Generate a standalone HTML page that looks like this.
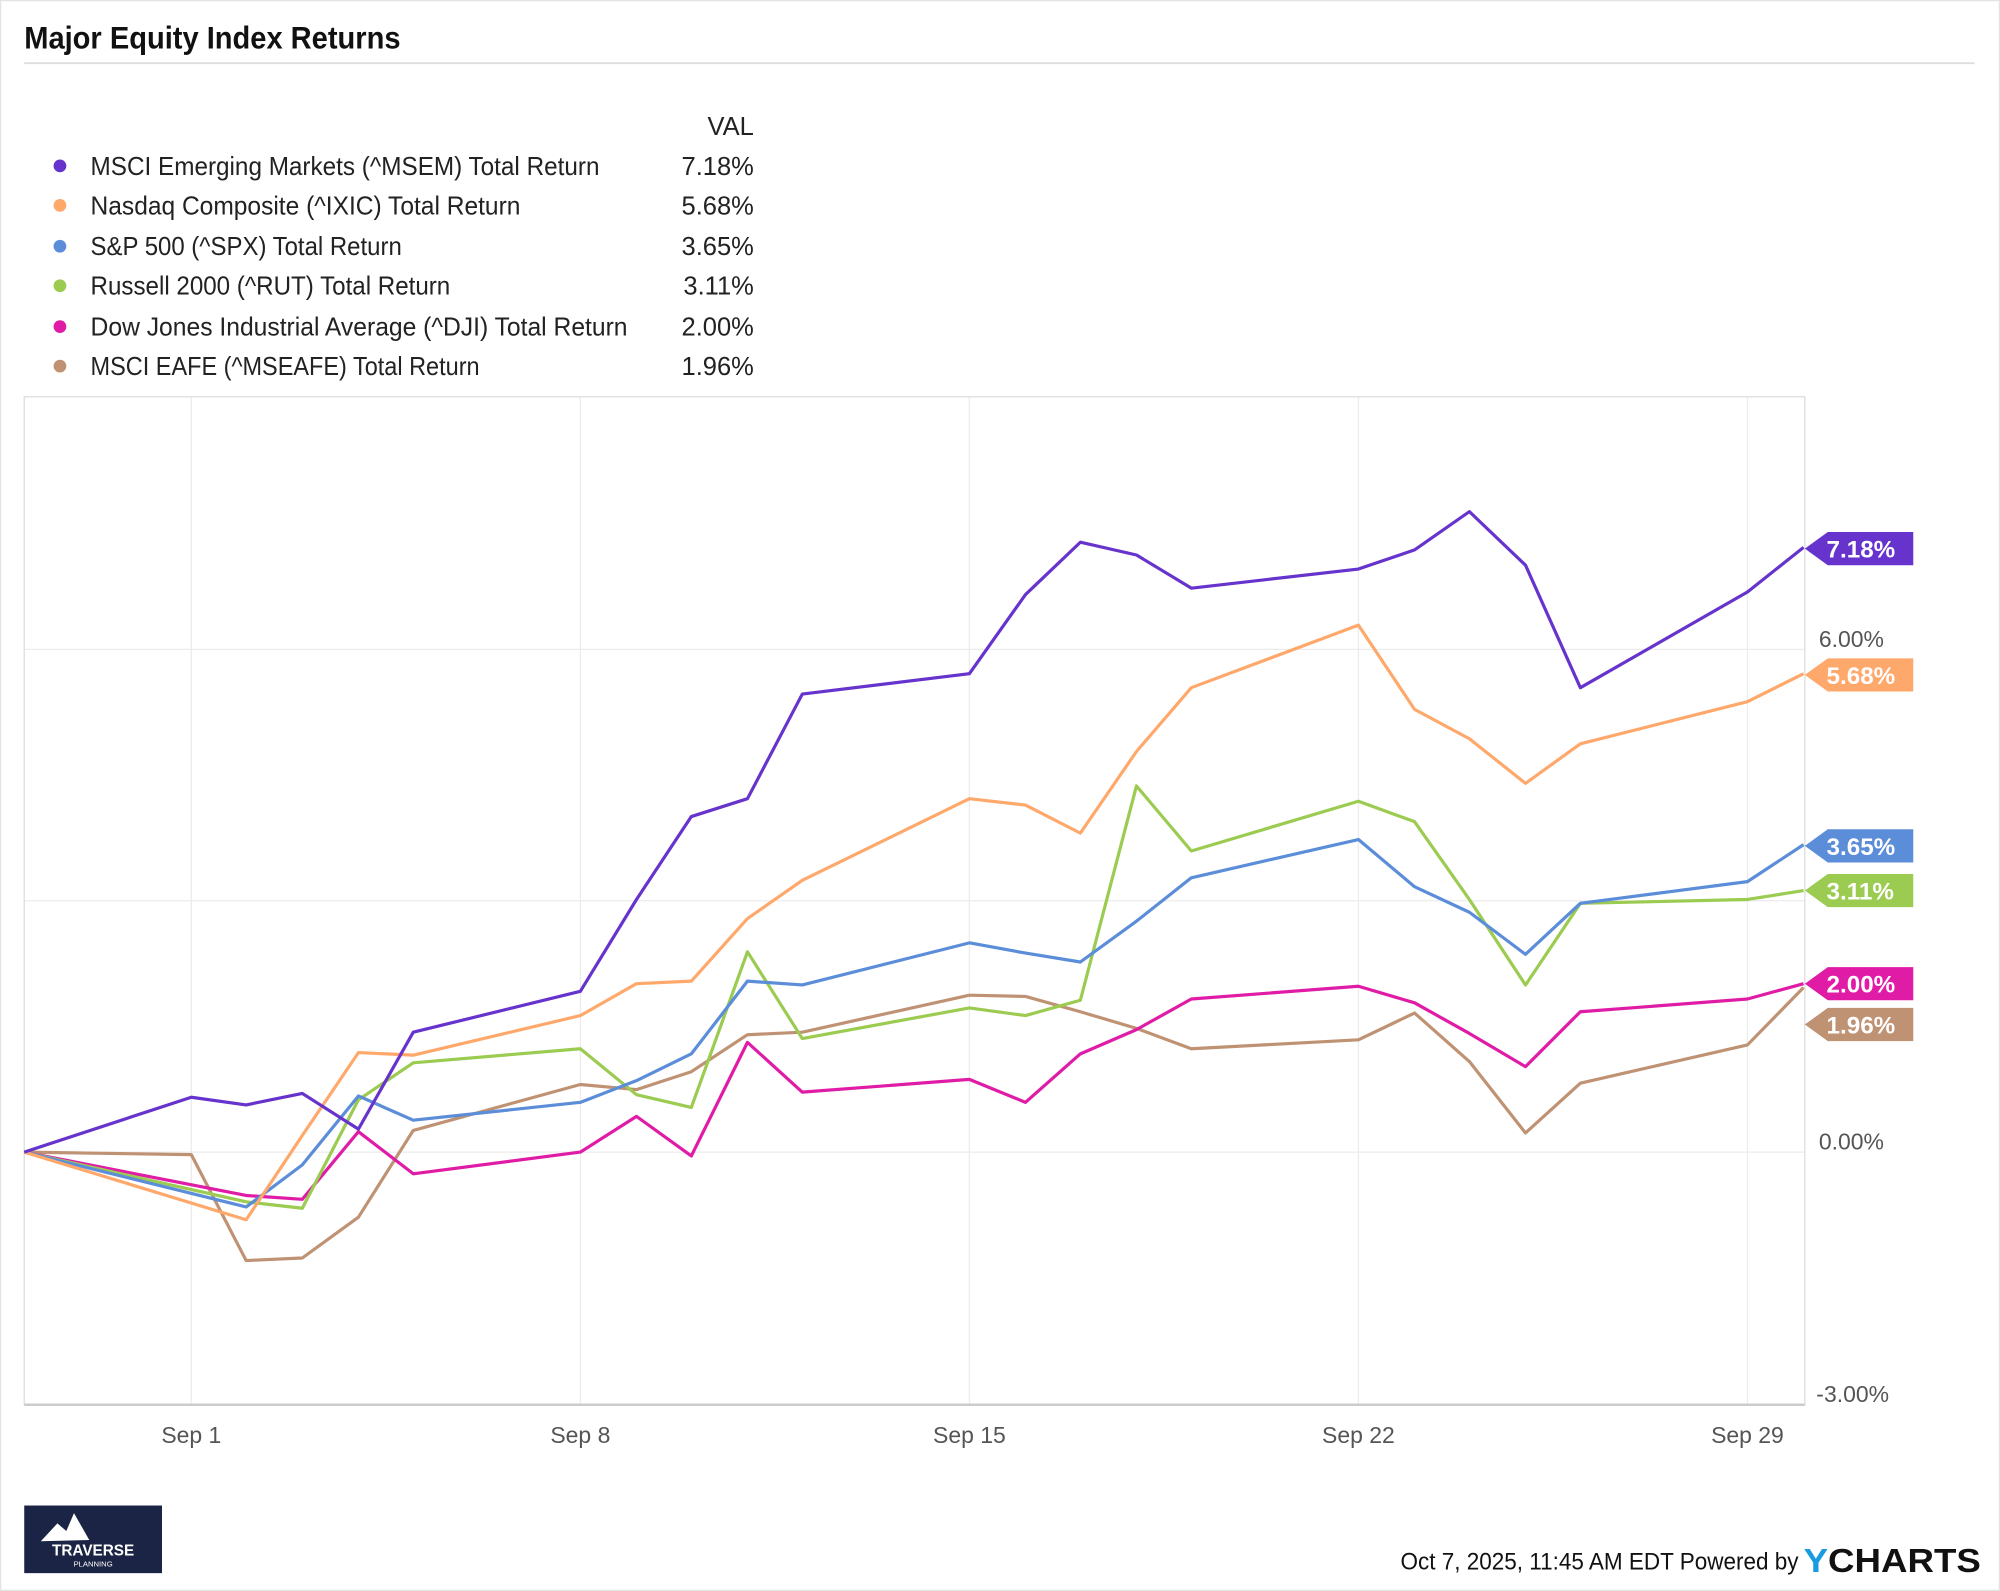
<!DOCTYPE html>
<html><head><meta charset="utf-8"><style>
html,body{margin:0;padding:0;background:#fff}
svg{display:block}
text{font-family:"Liberation Sans Narrow","Liberation Sans",sans-serif}
</style></head><body>
<svg width="2000" height="1591" viewBox="0 0 1568 1247" preserveAspectRatio="none" xmlns="http://www.w3.org/2000/svg">
<rect x="0.5" y="0.5" width="1567" height="1246" fill="#fff" stroke="#e4e4e4"/>
<text x="19" y="38" font-size="25" font-weight="bold" fill="#111" textLength="295" lengthAdjust="spacingAndGlyphs">Major Equity Index Returns</text>
<line x1="19" y1="49.5" x2="1548" y2="49.5" stroke="#ddd" stroke-width="1.5"/>
<g font-size="20" fill="#222">
<text x="591" y="106" text-anchor="end">VAL</text>
<circle cx="47" cy="130" r="5" fill="#6633cc"/><text x="71" y="137" textLength="399" lengthAdjust="spacingAndGlyphs">MSCI Emerging Markets (^MSEM) Total Return</text><text x="591" y="137" text-anchor="end">7.18%</text>
<circle cx="47" cy="161" r="5" fill="#ffa86b"/><text x="71" y="168" textLength="337" lengthAdjust="spacingAndGlyphs">Nasdaq Composite (^IXIC) Total Return</text><text x="591" y="168" text-anchor="end">5.68%</text>
<circle cx="47" cy="193" r="5" fill="#5b8dd9"/><text x="71" y="200" textLength="244" lengthAdjust="spacingAndGlyphs">S&amp;P 500 (^SPX) Total Return</text><text x="591" y="200" text-anchor="end">3.65%</text>
<circle cx="47" cy="224" r="5" fill="#9bcb50"/><text x="71" y="231" textLength="282" lengthAdjust="spacingAndGlyphs">Russell 2000 (^RUT) Total Return</text><text x="591" y="231" text-anchor="end">3.11%</text>
<circle cx="47" cy="256" r="5" fill="#e01ca7"/><text x="71" y="263" textLength="421" lengthAdjust="spacingAndGlyphs">Dow Jones Industrial Average (^DJI) Total Return</text><text x="591" y="263" text-anchor="end">2.00%</text>
<circle cx="47" cy="287" r="5" fill="#c09274"/><text x="71" y="294" textLength="305" lengthAdjust="spacingAndGlyphs">MSCI EAFE (^MSEAFE) Total Return</text><text x="591" y="294" text-anchor="end">1.96%</text>
</g>
<g stroke="#ececec" stroke-width="1">
<line x1="150" y1="311" x2="150" y2="1101"/><line x1="455" y1="311" x2="455" y2="1101"/><line x1="760" y1="311" x2="760" y2="1101"/><line x1="1065" y1="311" x2="1065" y2="1101"/><line x1="1370" y1="311" x2="1370" y2="1101"/>
<line x1="19" y1="509" x2="1415" y2="509"/><line x1="19" y1="706" x2="1415" y2="706"/><line x1="19" y1="903" x2="1415" y2="903"/>
</g>
<rect x="19" y="311" width="1396" height="790" fill="none" stroke="#ddd"/>
<line x1="19" y1="1101" x2="1415" y2="1101" stroke="#ccc" stroke-width="2"/>
<g font-size="18" fill="#555">
<text x="1426" y="507">6.00%</text><text x="1426" y="901">0.00%</text><text x="1424" y="1099">-3.00%</text>
<g text-anchor="middle"><text x="150" y="1131">Sep 1</text><text x="455" y="1131">Sep 8</text><text x="760" y="1131">Sep 15</text><text x="1065" y="1131">Sep 22</text><text x="1370" y="1131">Sep 29</text></g>
</g>
<g fill="none" stroke-width="2.5" stroke-linejoin="round">
<polyline stroke="#c09274" points="19,903 150,905 193,988 237,986 281,954 324,886 455,850 499,854 542,840 586,811 629,809 760,780 804,781 847,793 891,806 934,822 1065,815 1109,794 1152,832 1196,888 1239,849 1370,819 1414,774"/>
<polyline stroke="#e01ca7" points="19,903 193,937 237,940 281,887 324,920 455,903 499,875 542,906 586,817 629,856 760,846 804,864 847,826 891,807 934,783 1065,773 1109,786 1152,810 1196,836 1239,793 1370,783 1414,771"/>
<polyline stroke="#9bcb50" points="19,903 193,942 237,947 281,862 324,833 455,822 499,858 542,868 586,746 629,814 760,790 804,796 847,784 891,616 934,667 1065,628 1109,644 1152,705 1196,772 1239,708 1370,705 1414,698"/>
<polyline stroke="#5b8dd9" points="19,903 193,946 237,913 281,859 324,878 455,864 499,847 542,826 586,769 629,772 760,739 804,747 847,754 891,722 934,688 1065,658 1109,695 1152,715 1196,748 1239,708 1370,691 1414,662"/>
<polyline stroke="#ffa86b" points="19,903 193,956 237,890 281,825 324,827 455,796 499,771 542,769 586,720 629,690 760,626 804,631 847,653 891,589 934,539 1065,490 1109,556 1152,579 1196,614 1239,583 1370,550 1414,528"/>
<polyline stroke="#6633cc" points="19,903 150,860 193,866 237,857 281,885 324,809 455,777 499,705 542,640 586,626 629,544 760,528 804,466 847,425 891,435 934,461 1065,446 1109,431 1152,401 1196,443 1239,539 1370,464 1414,429"/>
</g>
<g font-size="19" font-weight="bold" fill="#fff" font-family="Liberation Sans,sans-serif">
<polygon points="1415,430 1433,417 1500,417 1500,443 1433,443" fill="#6633cc"/><text x="1432" y="437" font-family="Liberation Sans,sans-serif">7.18%</text>
<polygon points="1415,529 1433,516 1500,516 1500,542 1433,542" fill="#ffa86b"/><text x="1432" y="536" font-family="Liberation Sans,sans-serif">5.68%</text>
<polygon points="1415,663 1433,650 1500,650 1500,676 1433,676" fill="#5b8dd9"/><text x="1432" y="670" font-family="Liberation Sans,sans-serif">3.65%</text>
<polygon points="1415,698 1433,685 1500,685 1500,711 1433,711" fill="#9bcb50"/><text x="1432" y="705" font-family="Liberation Sans,sans-serif">3.11%</text>
<polygon points="1415,771 1433,758 1500,758 1500,784 1433,784" fill="#e01ca7"/><text x="1432" y="778" font-family="Liberation Sans,sans-serif">2.00%</text>
<polygon points="1415,803 1433,790 1500,790 1500,816 1433,816" fill="#c09274"/><text x="1432" y="810" font-family="Liberation Sans,sans-serif">1.96%</text>
</g>
<rect x="19" y="1180" width="108" height="53" fill="#1b2444"/>
<polygon points="32,1208 45,1194 52,1200 58,1186 70,1207" fill="#fff"/>
<text x="73" y="1219" font-size="12" font-weight="bold" fill="#fff" text-anchor="middle" font-family="Liberation Sans,sans-serif">TRAVERSE</text>
<text x="73" y="1228" font-size="6" fill="#fff" text-anchor="middle" font-family="Liberation Sans,sans-serif">PLANNING</text>
<text x="1410" y="1230" font-size="19" fill="#111" text-anchor="end" textLength="312" lengthAdjust="spacingAndGlyphs">Oct 7, 2025, 11:45 AM EDT Powered by</text>
<text x="1414" y="1232" font-size="26" font-weight="bold" fill="#111" font-family="Liberation Sans,sans-serif" textLength="139" lengthAdjust="spacingAndGlyphs"><tspan fill="#1a9ae0">Y</tspan>CHARTS</text>
</svg>
</body></html>
